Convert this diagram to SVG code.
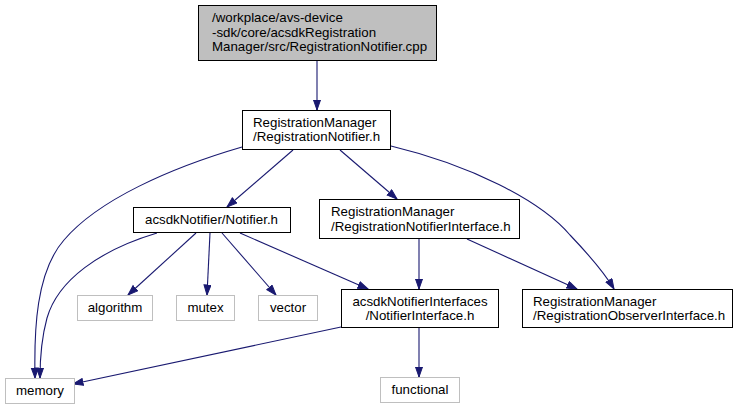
<svg xmlns="http://www.w3.org/2000/svg" width="739" height="409" viewBox="0 0 739 409">
<style>
text{font-family:"Liberation Sans",Arial,Helvetica,sans-serif;font-size:13.3px;fill:#000}
.n rect{fill:#fff;stroke:#000;stroke-width:1}
.g rect{fill:#fff;stroke:#bfbfbf;stroke-width:1}
.top rect{fill:#bfbfbf;stroke:#000;stroke-width:1}
.c{text-anchor:middle}
#edges path{fill:none;stroke:#191970;stroke-width:1.1;marker-end:url(#ah)}
</style>
<defs>
<marker id="ah" markerUnits="userSpaceOnUse" markerWidth="12" markerHeight="9" refX="10.5" refY="4" orient="auto">
<path d="M0.5,0.5 L10.5,4 L0.5,7.5 z" fill="#191970" stroke="#191970" stroke-width="1"/>
</marker>
</defs>
<rect width="739" height="409" fill="#fff"/>
<g id="edges">
<path d="M317,61 L317,110"/>
<path d="M293,150 L227,207"/>
<path d="M340,150 L397,199"/>
<path d="M242,147 C170,168 98,200 64,240 C36,272 34,330 35,378"/>
<path d="M391,146 C470,165 540,200 570,235 C590,256 604,272 614,289"/>
<path d="M196,233 L128,295"/>
<path d="M210,233 L207,295"/>
<path d="M222,233 L276,295"/>
<path d="M240,233 L368,289"/>
<path d="M419,239 L419,289"/>
<path d="M467,239 L577,289"/>
<path d="M157,233 C100,250 58,280 47,318 C41,340 40,360 40,378"/>
<path d="M341,327 L73,384"/>
<path d="M419,328 L419,377"/>
</g>
<g id="node_top" class="top">
<rect x="198.5" y="5.5" width="238" height="55"/>
<text x="212" y="22">/workplace/avs-device</text>
<text x="212" y="36.5">-sdk/core/acsdkRegistration</text>
<text x="212" y="51">Manager/src/RegistrationNotifier.cpp</text>
</g>
<g id="node_rn" class="n">
<rect x="242.5" y="110.5" width="148" height="39"/>
<text x="253" y="126.5">RegistrationManager</text>
<text x="253" y="141">/RegistrationNotifier.h</text>
</g>
<g id="node_notifier" class="n">
<rect x="133.5" y="207.5" width="157" height="25"/>
<text class="c" x="211.5" y="224">acsdkNotifier/Notifier.h</text>
</g>
<g id="node_rni" class="n">
<rect x="319.5" y="199.5" width="200" height="39"/>
<text x="331" y="216">RegistrationManager</text>
<text x="331" y="230.5">/RegistrationNotifierInterface.h</text>
</g>
<g id="node_algorithm" class="g">
<rect x="77.5" y="295.5" width="75" height="25"/>
<text class="c" x="115" y="312">algorithm</text>
</g>
<g id="node_mutex" class="g">
<rect x="176.5" y="295.5" width="58" height="25"/>
<text class="c" x="205.5" y="312">mutex</text>
</g>
<g id="node_vector" class="g">
<rect x="258.5" y="295.5" width="59" height="25"/>
<text class="c" x="288" y="312">vector</text>
</g>
<g id="node_ni" class="n">
<rect x="341.5" y="289.5" width="157" height="38"/>
<text class="c" x="420" y="305.5">acsdkNotifierInterfaces</text>
<text class="c" x="420" y="320">/NotifierInterface.h</text>
</g>
<g id="node_roi" class="n">
<rect x="522.5" y="289.5" width="210" height="38"/>
<text x="533" y="305.5">RegistrationManager</text>
<text x="533" y="320">/RegistrationObserverInterface.h</text>
</g>
<g id="node_memory" class="g">
<rect x="5.5" y="378.5" width="69" height="25"/>
<text class="c" x="40" y="395">memory</text>
</g>
<g id="node_functional" class="g">
<rect x="380.5" y="377.5" width="79" height="25"/>
<text class="c" x="420" y="394">functional</text>
</g>
</svg>
